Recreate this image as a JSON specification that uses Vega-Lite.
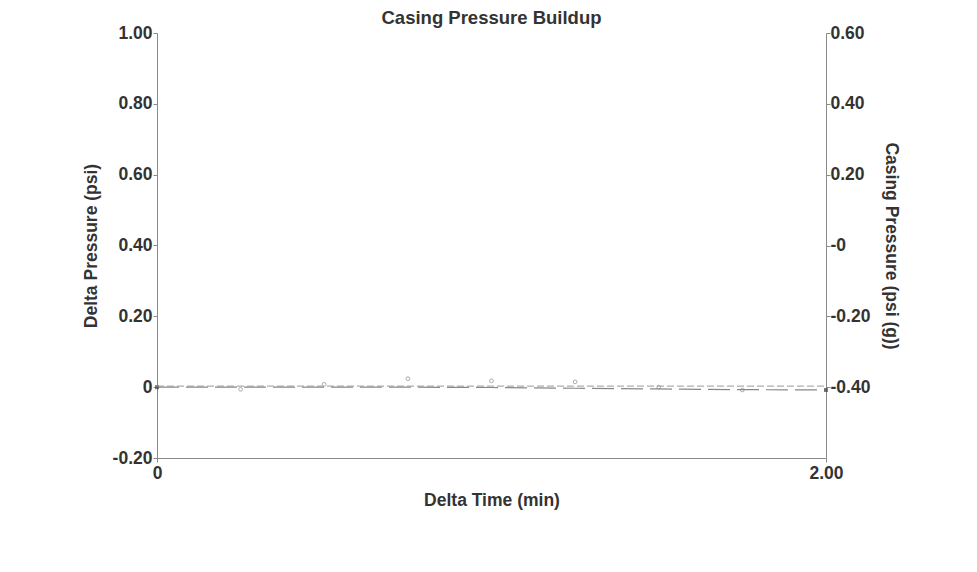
{
  "$schema": "https://vega.github.io/schema/vega-lite/v6.json",
  "width": 669,
  "height": 425,
  "autosize": {"type": "none"},
  "padding": {"left": 157, "top": 33, "right": 151, "bottom": 114},
  "background": "white",
  "config": {
    "view": {"stroke": null},
    "font": "Liberation Sans",
    "axis": {
      "labelFont": "Liberation Sans", "labelFontWeight": "bold", "labelFontSize": 17.5, "labelColor": "#333333",
      "titleFont": "Liberation Sans", "titleFontWeight": "bold", "titleFontSize": 17.5, "titleColor": "#333333",
      "domainColor": "#8a8a8a", "tickColor": "#8a8a8a", "grid": false
    }
  },
  "title": {"text": "Casing Pressure Buildup", "fontSize": 18.5, "fontWeight": "bold", "font": "Liberation Sans", "color": "#333333", "offset": -3},
  "datasets": {
    "delta": [
      {"t": 0, "dp": 0}, {"t": 0.25, "dp": 0}, {"t": 0.5, "dp": 0}, {"t": 0.75, "dp": 0},
      {"t": 1.0, "dp": -0.001}, {"t": 1.25, "dp": -0.003}, {"t": 1.5, "dp": -0.005}, {"t": 1.75, "dp": -0.007}, {"t": 2.0, "dp": -0.008}
    ],
    "points": [
      {"t": 0.25, "dp": -0.006}, {"t": 0.5, "dp": 0.008}, {"t": 0.75, "dp": 0.024}, {"t": 1.0, "dp": 0.018},
      {"t": 1.25, "dp": 0.015}, {"t": 1.5, "dp": 0.0}, {"t": 1.75, "dp": -0.008}
    ],
    "ends": [
      {"t": 0, "dp": 0}, {"t": 2.0, "dp": -0.008}
    ],
    "casing": [
      {"t": 0, "cp": -0.397}, {"t": 0.5, "cp": -0.397}, {"t": 1.0, "cp": -0.397}, {"t": 1.5, "cp": -0.397}, {"t": 2.0, "cp": -0.397}
    ]
  },
  "layer": [
    {
      "layer": [
        {
          "data": {"name": "delta"},
          "mark": {"type": "line", "color": "#888888", "strokeWidth": 1.2, "strokeDash": [22, 7]},
          "encoding": {
            "x": {"field": "t", "type": "quantitative", "scale": {"domain": [0, 2], "nice": false},
              "axis": {"title": "Delta Time (min)", "values": [0, 2], "labelFlush": false, "labelExpr": "datum.value == 0 ? '0' : format(datum.value, '.2f')", "tickSize": 4, "titlePadding": 10, "labelPadding": 2}},
            "y": {"field": "dp", "type": "quantitative", "scale": {"domain": [-0.2, 1.0], "nice": false},
              "axis": {"title": "Delta Pressure (psi)", "values": [-0.2, 0, 0.2, 0.4, 0.6, 0.8, 1.0], "labelExpr": "datum.value == 0 ? '0' : replace(format(datum.value, '.2f'), '\u2212', '-')", "tickSize": 4, "labelPadding": 1, "titlePadding": 12}}
          }
        },
        {
          "data": {"name": "points"},
          "mark": {"type": "point", "shape": "circle", "filled": false, "color": "#888888", "size": 14, "strokeWidth": 1},
          "encoding": {
            "x": {"field": "t", "type": "quantitative"},
            "y": {"field": "dp", "type": "quantitative"}
          }
        },
        {
          "data": {"name": "ends"},
          "mark": {"type": "point", "shape": "square", "filled": true, "color": "#444444", "size": 16},
          "encoding": {
            "x": {"field": "t", "type": "quantitative"},
            "y": {"field": "dp", "type": "quantitative"}
          }
        }
      ]
    },
    {
      "data": {"name": "casing"},
      "mark": {"type": "line", "color": "#999999", "strokeWidth": 1, "strokeDash": [7, 3]},
      "encoding": {
        "x": {"field": "t", "type": "quantitative"},
        "y": {"field": "cp", "type": "quantitative", "scale": {"domain": [-0.6, 0.6], "nice": false},
          "axis": {"orient": "right", "title": "Casing Pressure (psi (g))", "values": [-0.4, -0.2, 0, 0.2, 0.4, 0.6], "labelExpr": "datum.value == 0 ? '-0' : replace(format(datum.value, '.2f'), '\u2212', '-')", "tickSize": 4, "labelPadding": 0, "titlePadding": 12, "titleAngle": 90}}
      }
    }
  ],
  "resolve": {"scale": {"y": "independent"}}
}
